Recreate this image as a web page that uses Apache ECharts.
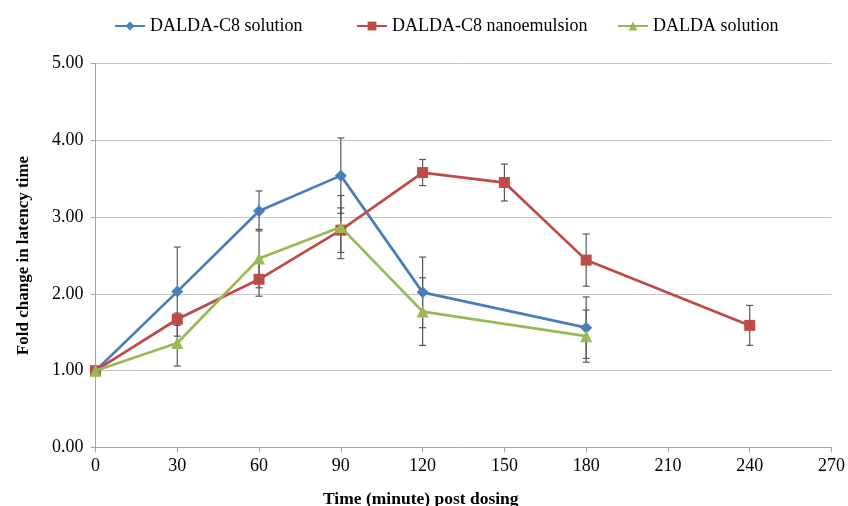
<!DOCTYPE html>
<html>
<head>
<meta charset="utf-8">
<script src="https://cdn.jsdelivr.net/npm/echarts@6/dist/echarts.min.js"></script>
<style>html,body{margin:0;padding:0;background:#fff;}#c{width:848px;height:506px;}</style>
</head>
<body>
<div id="c"></div>
<script>
// ---- data ----
var xTicks = [0, 30, 60, 90, 120, 150, 180, 210, 240, 270];
var yTicks = [0, 1, 2, 3, 4, 5];
var seriesNames = ['DALDA-C8 solution', 'DALDA-C8 nanoemulsion', 'DALDA solution'];

var c8SolTime = [0, 30, 60, 90, 120, 180];
var c8SolMean = [1.00, 2.03, 3.08, 3.54, 2.02, 1.56];
var c8SolErr  = [0, 0.58, 0.26, 0.49, 0.46, 0.40];

var c8NanoTime = [0, 30, 60, 90, 120, 150, 180, 240];
var c8NanoMean = [1.00, 1.67, 2.19, 2.83, 3.58, 3.45, 2.44, 1.59];
var c8NanoErr  = [0, 0.08, 0.22, 0.29, 0.17, 0.24, 0.34, 0.26];

var daldaTime = [0, 30, 60, 90, 120, 180];
var daldaMean = [1.00, 1.36, 2.46, 2.87, 1.77, 1.45];
var daldaErr  = [0, 0.30, 0.38, 0.41, 0.44, 0.34];

// ---- build ----
var FONT = '"Liberation Serif", "Times New Roman", serif';
var colors = ['#4a7ebb', '#be4b48', '#98b954'];
var symbols = ['diamond', 'rect', 'triangle'];
var symSizes = [12, 11, 12];

function pts(t, m) { return t.map(function (v, i) { return [v, m[i]]; }); }
function errPts(t, m, e) { return t.map(function (v, i) { return [v, m[i], e[i]]; }); }

var groups = [
  [c8SolTime, c8SolMean, c8SolErr],
  [c8NanoTime, c8NanoMean, c8NanoErr],
  [daldaTime, daldaMean, daldaErr]
];

function renderErr(params, api) {
  var x = api.value(0), y = api.value(1), e = api.value(2);
  if (!e) return null;
  var top = api.coord([x, y + e]);
  var bot = api.coord([x, y - e]);
  var hw = 3.5;
  var st = { stroke: '#595959', lineWidth: 1.2 };
  return {
    type: 'group',
    children: [
      { type: 'line', shape: { x1: top[0], y1: top[1], x2: bot[0], y2: bot[1] }, style: st },
      { type: 'line', shape: { x1: top[0] - hw, y1: top[1], x2: top[0] + hw, y2: top[1] }, style: st },
      { type: 'line', shape: { x1: bot[0] - hw, y1: bot[1], x2: bot[0] + hw, y2: bot[1] }, style: st }
    ]
  };
}

var series = [];
groups.forEach(function (g, i) {
  series.push({
    type: 'custom',
    name: seriesNames[i] + ' err',
    renderItem: renderErr,
    data: errPts(g[0], g[1], g[2]),
    encode: { x: 0, y: 1 },
    z: 1,
    silent: true
  });
});
groups.forEach(function (g, i) {
  series.push({
    type: 'line',
    name: seriesNames[i],
    data: pts(g[0], g[1]),
    symbol: symbols[i],
    symbolSize: symSizes[i],
    showAllSymbol: true,
    lineStyle: { color: colors[i], width: 2.7 },
    itemStyle: { color: colors[i] },
    z: 3 + i
  });
});

var legendLefts = [109, 351, 612];
var legends = seriesNames.map(function (n, i) {
  return {
    data: [n],
    left: legendLefts[i],
    top: 12,
    itemWidth: 30,
    itemHeight: 11,
    itemGap: 4,
    textStyle: { fontFamily: FONT, fontSize: 18, color: '#000' }
  };
});

var chart = echarts.init(document.getElementById('c'));
chart.setOption({
  animation: false,
  backgroundColor: '#fff',
  legend: legends,
  title: {
    text: 'Time (minute) post dosing',
    left: 318,
    top: 485,
    textStyle: { fontFamily: FONT, fontSize: 17.5, fontWeight: 'bold', color: '#000' }
  },
  grid: { left: 95.5, right: 13.5, top: 63.5, bottom: 58.5, containLabel: false },
  xAxis: {
    type: 'value',
    min: xTicks[0],
    max: xTicks[xTicks.length - 1],
    interval: 30,
    axisLine: { show: true, lineStyle: { color: '#a6a6a6', width: 1 } },
    axisTick: { show: true, length: 5, lineStyle: { color: '#a6a6a6' } },
    splitLine: { show: false },
    axisLabel: { fontFamily: FONT, fontSize: 18, color: '#000', margin: 10 }
  },
  yAxis: {
    type: 'value',
    min: yTicks[0],
    max: yTicks[yTicks.length - 1],
    interval: 1,
    name: 'Fold change in latency time',
    nameLocation: 'middle',
    nameGap: 63,
    nameTextStyle: { fontFamily: FONT, fontSize: 17, fontWeight: 'bold', color: '#000' },
    axisLine: { show: true, lineStyle: { color: '#a6a6a6', width: 1 } },
    axisTick: { show: true, length: 5, lineStyle: { color: '#a6a6a6' } },
    splitLine: { show: true, lineStyle: { color: '#c6c6c6', width: 1 } },
    axisLabel: {
      fontFamily: FONT, fontSize: 18, color: '#000', margin: 12,
      formatter: function (v) { return v.toFixed(2); }
    }
  },
  series: series
});
</script>
</body>
</html>
